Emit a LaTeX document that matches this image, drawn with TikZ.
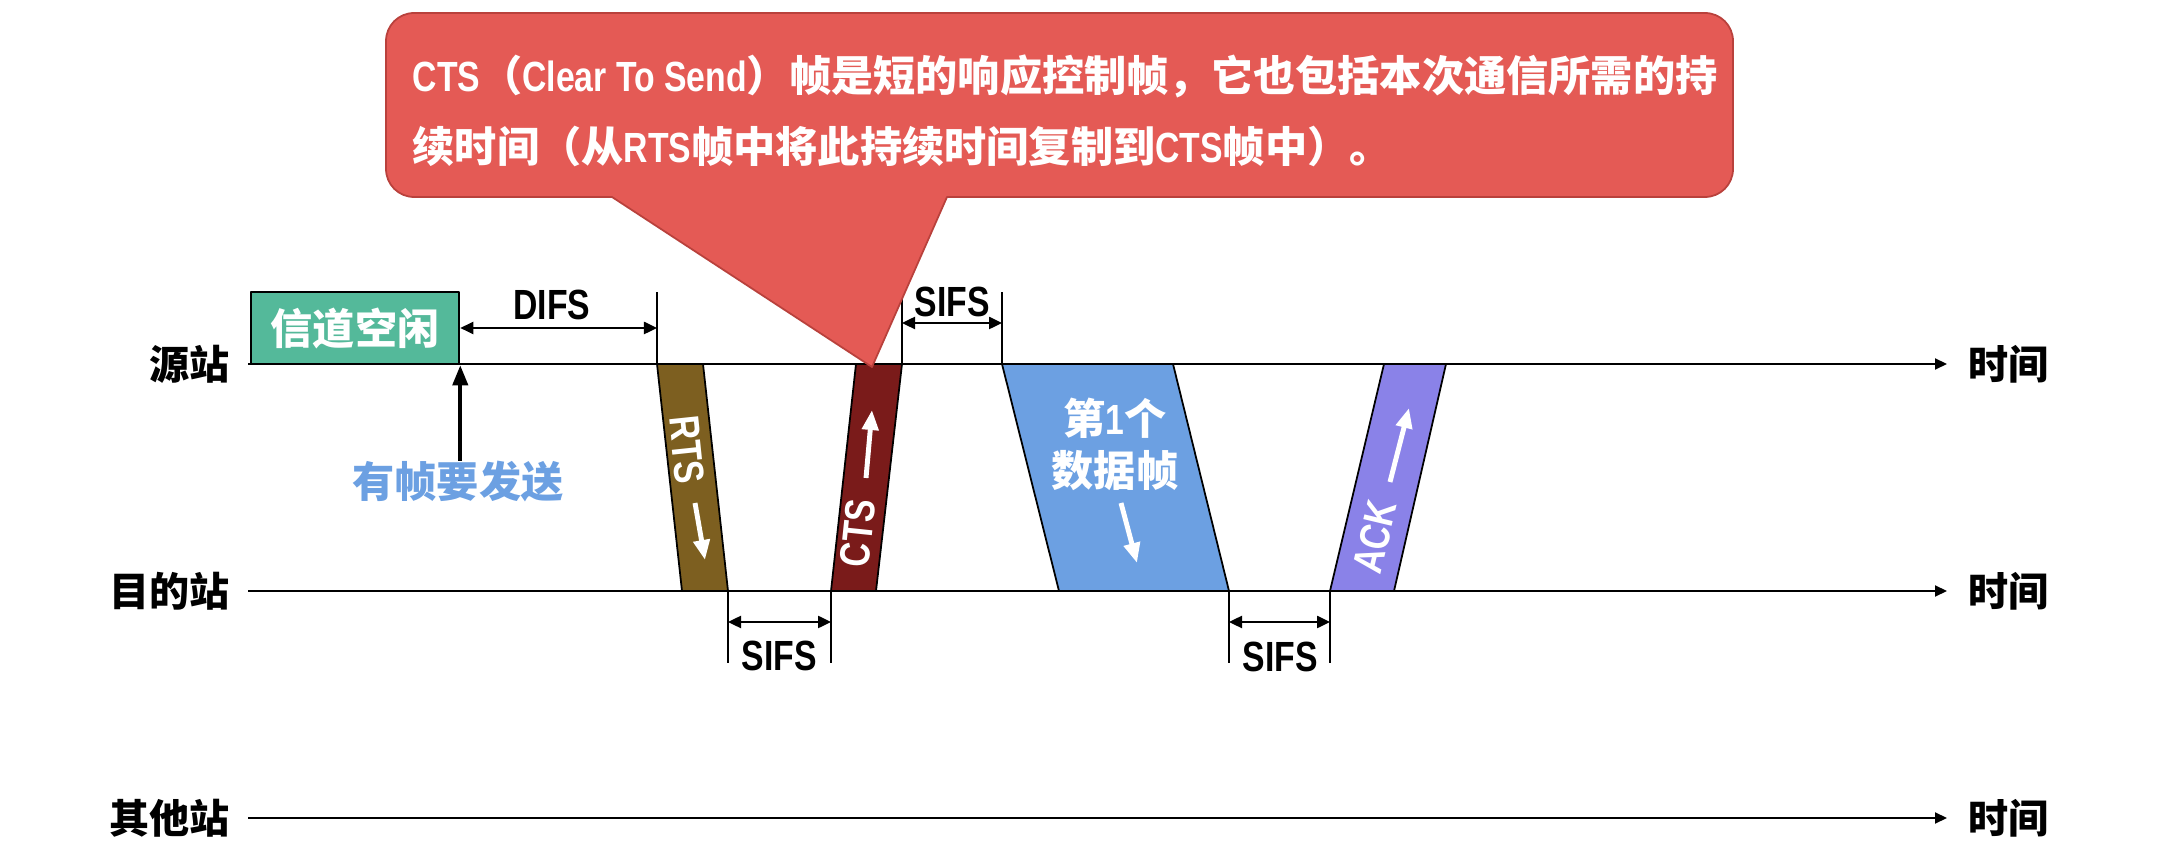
\documentclass[tikz,border=0pt]{standalone}
\usepackage{fontspec}
\setmainfont{Noto Sans CJK SC}
\newfontfamily\enfont{Liberation Sans}[FakeStretch=0.8]
\usetikzlibrary{arrows.meta}
\usetikzlibrary{calc}
\definecolor{idlegreen}{RGB}{84,185,154}
\definecolor{rtsbrown}{RGB}{125,95,32}
\definecolor{ctsred}{RGB}{122,27,26}
\definecolor{datablue}{RGB}{108,160,226}
\definecolor{ackviolet}{RGB}{138,130,232}
\definecolor{notered}{RGB}{228,90,85}
\definecolor{noteedge}{RGB}{185,65,60}
\newcommand{\en}[1]{{\enfont #1}}

\tikzset{
  station/.style={font=\fontsize{11.4}{12}\selectfont\bfseries, inner sep=0pt},
  cn/.style={font=\fontsize{12}{14.8}\selectfont\bfseries, inner sep=0pt},
  lat/.style={font=\enfont\fontsize{12}{14}\selectfont\bfseries, inner sep=0pt},
  axis/.style={line width=0.6pt, -{Triangle[length=0.12cm,width=0.11cm]}},
  tick/.style={line width=0.4pt},
  dim/.style={line width=0.7pt, {Triangle[length=0.13cm,width=0.12cm]}-{Triangle[length=0.13cm,width=0.12cm]}},
  uparr/.style={line width=1.1pt, -{Triangle[length=0.2cm,width=0.15cm]}},
  whitearr/.style={white, line width=1.4pt, -{Triangle[length=0.2cm,width=0.16cm]}},
  bar/.style={draw=black, line width=0.5pt}
}

\begin{document}
\begin{tikzpicture}[x=0.01cm,y=-0.01cm,line join=round]
\useasboundingbox (0,0) rectangle (2178,852);

% Stationen und Zeitachsen
\foreach \y/\n/\s in {364/src/源站, 591/dst/目的站, 818/oth/其他站} {
  \node[station, anchor=east] (\n) at (230,\y) {\s};
  \node[station, anchor=west] (\n t) at (1968,\y) {时间};
  \draw[axis, shorten <=0.18cm, shorten >=0.21cm] (\n) -- (\n t);
}

% Ecken der Rahmen
\coordinate (r1) at (657,364);  \coordinate (r2) at (703,364);
\coordinate (r3) at (728,591);  \coordinate (r4) at (682,591);
\coordinate (c1) at (856,364);  \coordinate (c2) at (902,364);
\coordinate (c3) at (876,591);  \coordinate (c4) at (831,591);
\coordinate (d1) at (1002,364); \coordinate (d2) at (1173,364);
\coordinate (d3) at (1229,591); \coordinate (d4) at (1059,591);
\coordinate (a1) at (1384,364); \coordinate (a2) at (1446,364);
\coordinate (a3) at (1394,591); \coordinate (a4) at (1330,591);

% Rahmen
\foreach \n/\c in {r/rtsbrown, c/ctsred, d/datablue, a/ackviolet}
  \draw[bar, fill=\c] (\n1) -- (\n2) -- (\n3) -- (\n4) -- cycle;

% Kanal frei
\node[cn, text=white, draw=black, line width=0.7pt, fill=idlegreen,
      minimum width=2.08cm, minimum height=0.72cm] (idle) at (355,328) {信道空闲};
\node[cn, text=datablue] (want) at (458,482) {有帧要发送};
\draw[uparr] (want.north -| idle.south east) -- (idle.south east);

% Abstaende
\draw[tick] (r1) -- ++(0,-72);
\draw[tick] (c2) -- ++(0,-72);
\draw[tick] (d1) -- ++(0,-72);
\foreach \p in {r3, c4, d3, a4}
  \draw[tick] (\p) -- ++(0,72);
\draw[dim] (idle.east) -- (idle.east -| r1);
\node[lat] (difs) at (552,305) {DIFS};
\draw[dim] ($(c2)+(0,-41)$) -- ($(d1)+(0,-41)$);
\node[lat] (sifs1) at (952,302) {SIFS};
\draw[dim] ($(r3)+(0,31)$) -- ($(c4)+(0,31)$);
\node[lat] (sifs2) at (779,656) {SIFS};
\draw[dim] ($(d3)+(0,31)$) -- ($(a4)+(0,31)$);
\node[lat] (sifs3) at (1280,657) {SIFS};

% Beschriftungen in den Rahmen
\node[lat, text=white, rotate=-84] (rtsl) at (687,450) {RTS};
\draw[whitearr] (695,503) -- (705,560);
\node[lat, text=white, rotate=84] (ctsl) at (858,533) {CTS};
\draw[whitearr] (866,478) -- (872,410);
\node[cn, text=white, align=center] (datal) at (1115,444) {第\en{1}个\\数据帧};
\draw[whitearr] (1121,503) -- (1137,563);
\node[lat, text=white, rotate=76.6] (ackl) at (1375,537) {ACK};
\draw[whitearr] (1390,482) -- (1409,408);

% Sprechblase
\coordinate (tip) at (872,367);
\path[draw=noteedge, fill=notered, line width=0.5pt]
  (612,197) -- (tip) -- (947,197)
  [rounded corners=0.28cm] -- (1733,197) -- (1733,13) -- (386,13) -- (386,197)
  [sharp corners] -- cycle;
\node[cn, text=white, anchor=north west, align=left,
      font=\fontsize{12}{20.2}\selectfont\bfseries] (note) at (412,54)
  {\en{CTS}（\en{Clear To Send}）帧是短的响应控制帧，它也包括本次通信所需的持\\
   续时间（从\en{RTS}帧中将此持续时间复制到\en{CTS}帧中）。};
\end{tikzpicture}
\end{document}
